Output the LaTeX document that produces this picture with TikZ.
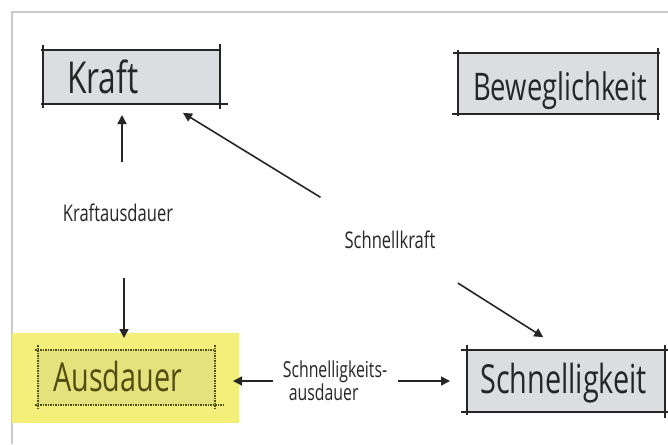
\documentclass[tikz,border=0pt]{standalone}
\usepackage{fontspec}
\setmainfont{Open Sans}
\newfontfamily\hand[FakeStretch=0.72]{Open Sans}
\usetikzlibrary{arrows.meta,calc}
\definecolor{boxfill}{HTML}{DCDDE1}
\definecolor{ink}{HTML}{262626}
\definecolor{framegray}{HTML}{CACACA}
\definecolor{hilite}{HTML}{F3EF7A}
\definecolor{hibox}{HTML}{E4E27C}
\definecolor{olive}{HTML}{4F4D10}
\begin{document}
\begin{tikzpicture}[x=1pt,y=-1pt,
  box/.style={fill=boxfill, draw=none, inner sep=0pt, outer sep=0pt},
  edge/.style={draw=ink, line width=1.6pt},
  dotedge/.style={draw=olive, line width=1.5pt, densely dotted},
  big/.style={font=\hand\fontsize{40}{40}\selectfont, text=ink, inner sep=0pt, anchor=base west},
  small/.style={font=\hand\fontsize{23}{20}\selectfont, text=ink, inner sep=0pt},
  arr/.style={draw=ink, line width=1.6pt, -{Triangle[length=9pt,width=9pt]}}]

\useasboundingbox[fill=white] (0,0) rectangle (668,444);
\draw[framegray, line width=2pt] (12,444) -- (12,12) -- (668,12);

% Kraft
\node[box, minimum width=177pt, minimum height=54pt] (kraft) at (131.5,77) {};
\draw[edge] ([xshift=-2pt]kraft.north west) -- (kraft.north east);
\draw[edge] ([xshift=-2pt]kraft.south west) -- ([xshift=8pt]kraft.south east);
\draw[edge] ([yshift=5pt]kraft.north west) -- ([yshift=-4pt]kraft.south west);
\draw[edge] ([yshift=6pt]kraft.north east) -- ([yshift=-5pt]kraft.south east);
\node[big, font=\hand\fontsize{44}{44}\selectfont] (kraftT) at (67,93) {Kraft};

% Beweglichkeit
\node[box, minimum width=200pt, minimum height=61pt] (bew) at (558,83.5) {};
\draw[edge] ([xshift=-5pt]bew.north west) -- ([xshift=2pt]bew.north east);
\draw[edge] ([xshift=-6pt]bew.south west) -- ([xshift=2pt]bew.south east);
\draw[edge] ([yshift=3pt]bew.north west) -- ([yshift=-2pt]bew.south west);
\draw[edge] ([yshift=5pt]bew.north east) -- ([yshift=-6pt]bew.south east);
\node[big, font=\hand\fontsize{38}{38}\selectfont] (bewT) at (473,100) {Beweglichkeit};

% Ausdauer (highlighted)
\fill[hilite] (12,333) rectangle (239,423);
\node[box, fill=hibox, minimum width=177pt, minimum height=55pt] (ausd) at (126.5,377.5) {};
\draw[dotedge] ([xshift=-3pt]ausd.north west) -- (ausd.north east);
\draw[dotedge] ([xshift=-3pt]ausd.south west) -- ([xshift=8pt]ausd.south east);
\draw[dotedge] ([yshift=5pt]ausd.north west) -- ([yshift=-4pt]ausd.south west);
\draw[dotedge] ([yshift=5pt]ausd.north east) -- ([yshift=-4pt]ausd.south east);
\node[big, text=olive] (ausdT) at (53,391) {Ausdauer};

% Schnelligkeit
\node[box, minimum width=198pt, minimum height=62pt] (schn) at (566,381) {};
\draw[edge] ([xshift=-6pt]schn.north west) -- ([xshift=3pt]schn.north east);
\draw[edge] ([xshift=-6pt]schn.south west) -- ([xshift=3pt]schn.south east);
\draw[edge] ([yshift=5pt]schn.north west) -- ([yshift=-3pt]schn.south west);
\draw[edge] ([yshift=5pt]schn.north east) -- ([yshift=-6pt]schn.south east);
\node[big] (schnT) at (480,393) {Schnelligkeit};

% labels
\node[small] (ka) at (118,213) {Kraftausdauer};
\node[small] (sk) at (390,240) {Schnellkraft};
\node[small, align=left, font=\hand\fontsize{22}{20}\selectfont] (sa) at (335,381) {Schnelligkeits-\\\hspace*{6pt}ausdauer};

% connectors
\draw[arr, shorten <=51pt, shorten >=11pt] ($(ka.center)+(4,0)$) -- ($(kraft.south)+(-9.5,0)$);
\draw[arr, shorten <=65pt, shorten >=12pt] ($(ka.center)+(6,0)$) -- ($(ausd.north)+(-2.5,0)$);
\draw[arr, shorten <=81.6pt, shorten >=17pt] (sk.center) -- ($(kraft.south)+(37,0)$);
\draw[arr, shorten <=80.5pt, shorten >=24pt] (sk.center) -- ($(schn.north)+(-2.5,0)$);
\draw[arr, shorten <=62pt, shorten >=18pt] (sa.center) -- (ausd.east |- sa.center);
\draw[arr, shorten <=63pt, shorten >=17pt] (sa.center) -- (schn.west |- sa.center);
\end{tikzpicture}
\end{document}
